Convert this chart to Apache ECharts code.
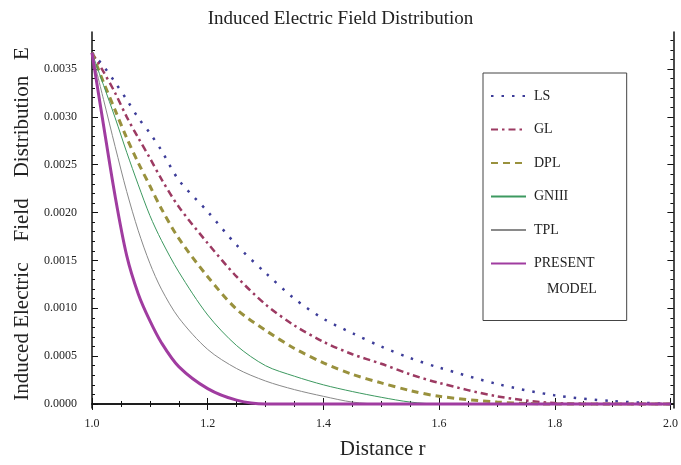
<!DOCTYPE html>
<html>
<head>
<meta charset="utf-8">
<script src="https://cdn.jsdelivr.net/npm/echarts@6/dist/echarts.min.js"></script>
<style>
  html, body { margin: 0; padding: 0; background: #fff; }
  #main { width: 681px; height: 465px; }
</style>
</head>
<body>
<div id="main"></div>
<script>
// distance r
var rValues = [1.00, 1.02, 1.04, 1.06, 1.08, 1.10, 1.12, 1.15, 1.20, 1.25, 1.30,
               1.35, 1.40, 1.45, 1.50, 1.55, 1.60, 1.70, 1.80, 1.90, 2.00];
// field values
var lsValues      = [0.00367, 0.00353, 0.00336, 0.00318, 0.00299, 0.00283, 0.00265, 0.00234, 0.00201, 0.00166, 0.00137,
                     0.00110, 0.00089, 0.00074, 0.00060, 0.00048, 0.00038, 0.00021, 0.00009, 0.00003, 0.00000];
var glValues      = [0.00367, 0.00347, 0.00325, 0.00300, 0.00278, 0.00257, 0.00235, 0.00206, 0.00168, 0.00133, 0.00104,
                     0.00082, 0.00065, 0.00052, 0.00042, 0.00031, 0.00022, 0.00008, 0.00001, 0.00000, 0.00000];
var dplValues     = [0.00367, 0.00336, 0.00307, 0.00278, 0.00252, 0.00228, 0.00204, 0.00173, 0.00133, 0.00099, 0.00077,
                     0.00058, 0.00043, 0.00031, 0.00022, 0.00014, 0.00008, 0.00002, 0.00000, 0.00000, 0.00000];
var gn3Values     = [0.00367, 0.00333, 0.00299, 0.00263, 0.00229, 0.00197, 0.00171, 0.00138, 0.00093, 0.00061, 0.00040,
                     0.00029, 0.00020, 0.00013, 0.00007, 0.00002, 0.00000, 0.00000, 0.00000, 0.00000, 0.00000];
var tplValues     = [0.00367, 0.00318, 0.00269, 0.00222, 0.00181, 0.00147, 0.00120, 0.00090, 0.00057, 0.00037, 0.00024,
                     0.00015, 0.00008, 0.00002, 0.00000, 0.00000, 0.00000, 0.00000, 0.00000, 0.00000, 0.00000];
var presentValues = [0.00367, 0.00291, 0.00217, 0.00155, 0.00115, 0.00087, 0.00064, 0.00039, 0.00016, 0.00004, 0.00000,
                     0.00000, 0.00000, 0.00000, 0.00000, 0.00000, 0.00000, 0.00000, 0.00000, 0.00000, 0.00000];

// tick labels
var xMajorTicks = [1.0, 1.2, 1.4, 1.6, 1.8, 2.0];
var yMajorTicks = [0.0000, 0.0005, 0.0010, 0.0015, 0.0020, 0.0025, 0.0030, 0.0035];

var xMinorTicks = [];
for (var i = 0; i <= 20; i++) xMinorTicks.push(+(1 + i * 0.05).toFixed(2));
var yMinorTicks = [];
for (var j = 0; j <= 38; j++) yMinorTicks.push(+(j * 0.0001).toFixed(4));

var serifFont = 'Liberation Serif';

function pairs(vals) {
    return rValues.map(function (r, k) { return [r, vals[k]]; });
}

function frameX(pos, ticks, len, labels) {
    return {
        type: 'value', position: pos, min: 1.0, max: 2.005,
        axisLine: { show: len > 4, lineStyle: { color: '#111', width: 1.5 } },
        axisTick: { show: true, inside: true, length: len, customValues: ticks, lineStyle: { color: '#111', width: 1 } },
        axisLabel: labels ? {
            customValues: ticks, margin: 10, color: '#222', fontSize: 12, fontFamily: serifFont,
            formatter: function (v) { return v.toFixed(1); }
        } : { show: false },
        splitLine: { show: false }
    };
}

function frameY(pos, ticks, len, labels) {
    return {
        type: 'value', position: pos, min: -0.000042, max: 0.003887,
        axisLine: { show: len > 4, lineStyle: { color: '#111', width: 1.5 } },
        axisTick: { show: true, inside: true, length: len, customValues: ticks, lineStyle: { color: '#111', width: 1 } },
        axisLabel: labels ? {
            customValues: ticks, margin: 15, color: '#222', fontSize: 12, fontFamily: serifFont,
            formatter: function (v) { return v.toFixed(4); }
        } : { show: false },
        splitLine: { show: false }
    };
}

var chart = echarts.init(document.getElementById('main'));

var xAxes = [
    frameX('bottom', xMajorTicks, 6, true),
    frameX('top', xMajorTicks, 6, false),
    frameX('top', xMinorTicks, 3, false),
    frameX('bottom', xMinorTicks, 3, false)
];
xAxes[0].name = 'Distance r';
xAxes[0].nameLocation = 'middle';
xAxes[0].nameGap = 31;
xAxes[0].nameTextStyle = { fontSize: 21, color: '#222', fontFamily: serifFont };

var yAxes = [
    frameY('left', yMajorTicks, 6, true),
    frameY('right', yMajorTicks, 6, false),
    frameY('right', yMinorTicks, 3, false),
    frameY('left', yMinorTicks, 3, false)
];
yAxes[0].name = 'Induced Electric    Field    Distribution   E';
yAxes[0].nameLocation = 'middle';
yAxes[0].nameGap = 59;
yAxes[0].nameTextStyle = { fontSize: 21, color: '#222', fontFamily: serifFont, padding: [0, 8, 0, 0] };

function line(name, vals, color, width, type, z) {
    return {
        name: name, type: 'line', data: pairs(vals),
        xAxisIndex: 0, yAxisIndex: 0,
        showSymbol: false, symbol: 'none',
        smooth: 0.3,
        z: z,
        itemStyle: { color: color },
        lineStyle: { color: color, width: width, type: type }
    };
}

var option = {
    animation: false,
    backgroundColor: '#fff',
    title: {
        text: 'Induced Electric Field Distribution',
        left: 'center', top: 5,
        textStyle: { fontFamily: serifFont, fontSize: 19, fontWeight: 'normal', color: '#222' }
    },
    grid: { left: 92, right: 2, top: 32, bottom: 57, containLabel: false },
    legend: {
        orient: 'vertical',
        left: 483, top: 73,
        padding: [16, 32, 50, 7],
        itemGap: 19.5,
        itemWidth: 35, itemHeight: 14,
        backgroundColor: '#fff',
        borderColor: '#444', borderWidth: 1,
        itemStyle: { opacity: 0 },
        textStyle: { fontFamily: serifFont, fontSize: 14, color: '#222', padding: [0, 0, 0, 3] },
        formatter: function (n) { return n === 'PRESENT MODEL' ? 'PRESENT' : n; },
        data: ['LS', 'GL', 'DPL', 'GNIII', 'TPL', 'PRESENT MODEL']
    },
    graphic: [{
        type: 'text', left: 547, top: 282, z: 100,
        style: { text: 'MODEL', fontFamily: serifFont, fontSize: 14, fill: '#222' }
    }],
    xAxis: xAxes,
    yAxis: yAxes,
    series: [
        line('LS', lsValues, '#3d3d99', 2.5, [2.5, 8], 5),
        line('GL', glValues, '#9c3a62', 2.5, [7, 4, 2.5, 4], 5),
        line('DPL', dplValues, '#99913d', 3, [7, 5], 5),
        line('GNIII', gn3Values, '#3d9960', 1, 'solid', 6),
        line('TPL', tplValues, '#8a8a8a', 1, 'solid', 6),
        line('PRESENT MODEL', presentValues, '#a03ca0', 3, 'solid', 7)
    ]
};

chart.setOption(option);
</script>
</body>
</html>
